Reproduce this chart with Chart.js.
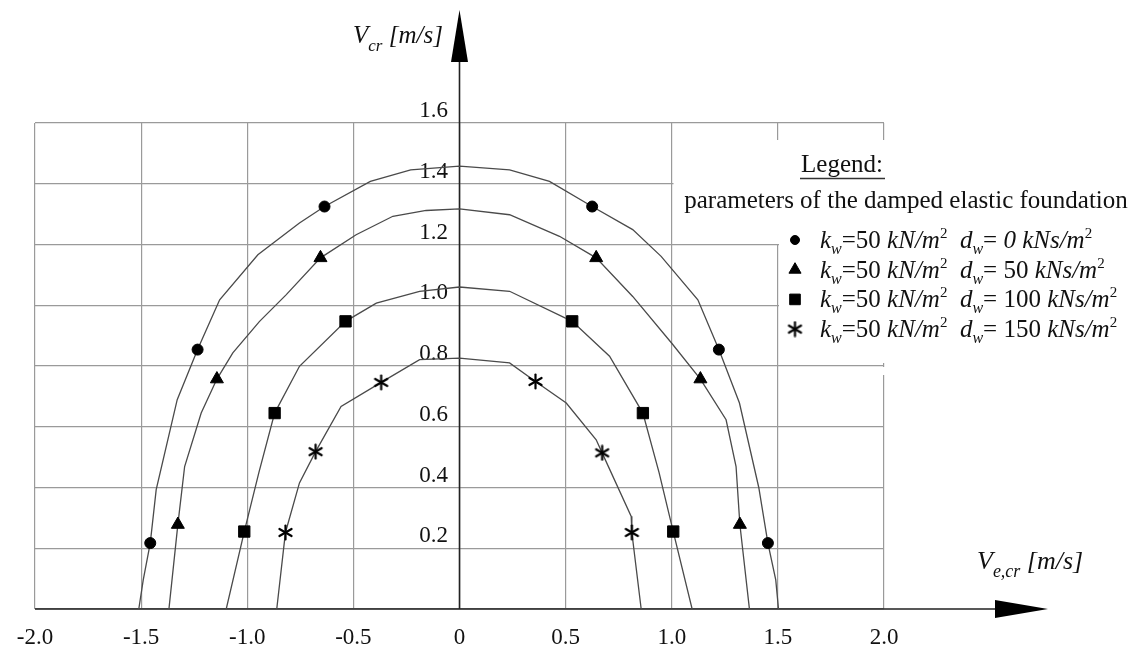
<!DOCTYPE html>
<html>
<head>
<meta charset="utf-8">
<script src="https://cdn.jsdelivr.net/npm/chart.js@4.4.1/dist/chart.umd.min.js"></script>
<style>
  html, body { margin: 0; padding: 0; background: #fff; }
</style>
</head>
<body>
<canvas id="chart" width="1139" height="646"></canvas>
<script>
// foundation parameters: kw in kN/m2, dw in kNs/m2
const kw = 50;
const dwValues = [0, 50, 100, 150];

// axis ticks
const xTicks = [-2.0, -1.5, -1.0, -0.5, 0, 0.5, 1.0, 1.5, 2.0];
const yTicks = [0, 0.2, 0.4, 0.6, 0.8, 1.0, 1.2, 1.4, 1.6];

// curves, [Ve,cr, Vcr] in m/s
const curveD0 = [[-1.511, 0], [-1.49, 0.096], [-1.457, 0.217], [-1.429, 0.393], [-1.33, 0.689], [-1.234, 0.854],
  [-1.13, 1.018], [-0.95, 1.166], [-0.754, 1.271], [-0.636, 1.325], [-0.42, 1.408], [-0.23, 1.446], [0, 1.458],
  [0.236, 1.446], [0.424, 1.408], [0.625, 1.325], [0.816, 1.249], [0.95, 1.161], [1.123, 1.018], [1.222, 0.854],
  [1.319, 0.678], [1.41, 0.40], [1.453, 0.217], [1.49, 0.096], [1.503, 0]];
const curveD50 = [[-1.369, 0], [-1.327, 0.278], [-1.295, 0.469], [-1.217, 0.645], [-1.143, 0.757], [-1.068, 0.843],
  [-0.942, 0.947], [-0.816, 1.035], [-0.655, 1.156], [-0.487, 1.232], [-0.314, 1.293], [-0.157, 1.312], [0, 1.317],
  [0.236, 1.298], [0.471, 1.227], [0.644, 1.156], [0.816, 1.029], [1.0, 0.875], [1.135, 0.757], [1.256, 0.623],
  [1.303, 0.469], [1.321, 0.278], [1.366, 0]];
const curveD100 = [[-1.099, 0], [-1.014, 0.255], [-0.945, 0.45], [-0.871, 0.645], [-0.754, 0.799], [-0.537, 0.947],
  [-0.392, 1.007], [-0.188, 1.046], [0, 1.06], [0.236, 1.046], [0.531, 0.947], [0.707, 0.832], [0.864, 0.645],
  [0.94, 0.45], [1.007, 0.255], [1.096, 0]];
const curveD150 = [[-0.861, 0], [-0.82, 0.252], [-0.754, 0.415], [-0.678, 0.518], [-0.558, 0.667], [-0.369, 0.746],
  [-0.188, 0.821], [0, 0.826], [0.236, 0.81], [0.358, 0.749], [0.503, 0.678], [0.644, 0.557], [0.672, 0.514],
  [0.809, 0.305], [0.812, 0.252], [0.856, 0]];

// marked points on each curve
const marksD0 = [[-1.457, 0.217], [-1.234, 0.854], [-0.636, 1.325], [0.625, 1.325], [1.222, 0.854], [1.453, 0.217]];
const marksD50 = [[-1.327, 0.278], [-1.143, 0.757], [-0.655, 1.156], [0.644, 1.156], [1.135, 0.757], [1.321, 0.278]];
const marksD100 = [[-1.014, 0.255], [-0.871, 0.645], [-0.537, 0.947], [0.531, 0.947], [0.864, 0.645], [1.007, 0.255]];
const marksD150 = [[-0.82, 0.252], [-0.678, 0.518], [-0.369, 0.746], [0.358, 0.749], [0.672, 0.514], [0.812, 0.252]];

const SERIF = '"Liberation Serif", "Times New Roman", serif';

// six-armed asterisk marker
function makeAsterisk(size) {
  const c = document.createElement('canvas');
  c.width = size; c.height = size;
  const g = c.getContext('2d');
  g.strokeStyle = '#000';
  g.lineWidth = 2.2;
  g.lineCap = 'round';
  const r = size / 2 - 1.5;
  for (let a = 0; a < 3; a++) {
    const ang = Math.PI / 2 + a * Math.PI / 3;
    g.beginPath();
    g.moveTo(size / 2 + Math.cos(ang) * r, size / 2 - Math.sin(ang) * r);
    g.lineTo(size / 2 - Math.cos(ang) * r, size / 2 + Math.sin(ang) * r);
    g.stroke();
  }
  return c;
}
const asterisk = makeAsterisk(17);

const styles = [
  { style: 'circle', radius: 5.5 },
  { style: 'triangle', radius: 7.5 },
  { style: 'rect', radius: 8 },
  { style: asterisk, radius: 8 }
];

const toXY = arr => arr.map(p => ({ x: p[0], y: p[1] }));
const curves = [curveD0, curveD50, curveD100, curveD150];
const marks = [marksD0, marksD50, marksD100, marksD150];

const datasets = [];
curves.forEach((c, i) => {
  datasets.push({
    label: 'dw=' + dwValues[i],
    data: toXY(c),
    showLine: true,
    borderColor: '#4a4a4a',
    borderWidth: 1.3,
    pointRadius: 0,
    tension: 0,
    order: 2
  });
  datasets.push({
    label: 'marks dw=' + dwValues[i],
    data: toXY(marks[i]),
    showLine: false,
    pointStyle: styles[i].style,
    pointRadius: styles[i].radius,
    backgroundColor: '#000',
    borderColor: '#000',
    borderWidth: 1,
    order: 1
  });
});

// draw a line of text made of pieces: [text, font, dy]
function richText(ctx, x, y, parts) {
  ctx.textAlign = 'left';
  ctx.textBaseline = 'alphabetic';
  let cx = x;
  parts.forEach(p => {
    ctx.font = p[1];
    ctx.fillText(p[0], cx, y + (p[2] || 0));
    cx += ctx.measureText(p[0]).width;
  });
  return cx - x;
}

const decor = {
  id: 'decor',
  beforeDatasetsDraw(chart) {
    const ctx = chart.ctx;
    const xs = chart.scales.x, ys = chart.scales.y;
    ctx.save();
    // white area behind the legend
    ctx.fillStyle = '#fff';
    ctx.fillRect(673.5, 140, 470, 104);
    ctx.fillRect(779, 244, 360, 119);
    ctx.fillRect(881, 367, 8, 8);

    // axes with arrows
    const x0 = xs.getPixelForValue(0);
    const y0 = ys.getPixelForValue(0);
    ctx.strokeStyle = '#222';
    ctx.fillStyle = '#000';
    ctx.lineWidth = 1.6;
    ctx.beginPath();
    ctx.moveTo(chart.chartArea.left, y0);
    ctx.lineTo(996, y0);
    ctx.moveTo(x0, y0);
    ctx.lineTo(x0, 62);
    ctx.stroke();
    ctx.beginPath();
    ctx.moveTo(995, y0 - 9);
    ctx.lineTo(1048, y0);
    ctx.lineTo(995, y0 + 9);
    ctx.closePath();
    ctx.fill();
    ctx.beginPath();
    ctx.moveTo(x0 - 8.5, 62);
    ctx.lineTo(x0, 10);
    ctx.lineTo(x0 + 8.5, 62);
    ctx.closePath();
    ctx.fill();
    ctx.restore();
  },
  afterDraw(chart) {
    const ctx = chart.ctx;
    ctx.save();
    ctx.fillStyle = '#111';

    // axis titles
    richText(ctx, 353, 43, [['V', 'italic 25px ' + SERIF], ['cr', 'italic 17px ' + SERIF, 8], [' [m/s]', 'italic 25px ' + SERIF]]);
    richText(ctx, 977, 569, [['V', 'italic 26px ' + SERIF], ['e,cr', 'italic 18px ' + SERIF, 8], [' [m/s]', 'italic 26px ' + SERIF]]);

    // legend header
    ctx.font = '25px ' + SERIF;
    ctx.textAlign = 'center';
    ctx.fillText('Legend:', 842, 172);
    ctx.strokeStyle = '#333';
    ctx.lineWidth = 1.3;
    ctx.beginPath();
    ctx.moveTo(800, 178.5);
    ctx.lineTo(885, 178.5);
    ctx.stroke();
    ctx.fillText('parameters of the damped elastic foundation', 906, 208);

    // legend items
    const rg = '25px ' + SERIF, ig = 'italic 25px ' + SERIF;
    const sub = 'italic 16px ' + SERIF, sup = '15px ' + SERIF;
    dwValues.forEach((d, i) => {
      const by = 248 + i * 29.7;
      const st = styles[i];
      ctx.fillStyle = '#000';
      ctx.strokeStyle = '#000';
      ctx.lineWidth = 1;
      if (typeof st.style === 'string') {
        Chart.helpers.drawPoint(ctx, {
          pointStyle: st.style,
          radius: st.style === 'circle' ? 4.5 : st.style === 'triangle' ? 7 : 7.5,
          rotation: 0, borderWidth: 1
        }, 795, by - 8);
      } else {
        ctx.drawImage(st.style, 795 - 8.5, by - 8 - 8.5);
      }
      ctx.fillStyle = '#111';
      richText(ctx, 820, by, [
        ['k', ig], ['w', sub, 6], ['=' + kw + ' ', rg], ['kN/m', ig], ['2', sup, -10],
        ['  ', rg], ['d', ig], ['w', sub, 6], ['= ', rg],
        [String(d), d === 0 ? ig : rg], [' kNs/m', ig], ['2', sup, -10]
      ]);
    });
    ctx.restore();
  }
};

const tickFont = { family: SERIF, size: 23 };

new Chart(document.getElementById('chart'), {
  type: 'scatter',
  data: { datasets },
  options: {
    responsive: false,
    animation: false,
    devicePixelRatio: 1,
    layout: { padding: { left: 35, right: 255, top: 123, bottom: 0 } },
    plugins: { legend: { display: false }, tooltip: { enabled: false } },
    scales: {
      x: {
        type: 'linear',
        min: -2, max: 2,
        afterBuildTicks: s => { s.ticks = xTicks.map(v => ({ value: v })); },
        afterFit: s => { s.height = 37; },
        grid: { color: '#9a9a9a', lineWidth: 1.2, drawTicks: false },
        border: { display: false },
        ticks: {
          font: tickFont, color: '#111', padding: 15, maxRotation: 0, autoSkip: false,
          callback: v => v === 0 ? '0' : v.toFixed(1)
        }
      },
      y: {
        type: 'linear',
        position: { x: 0 },
        min: 0, max: 1.6,
        afterBuildTicks: s => { s.ticks = yTicks.map(v => ({ value: v })); },
        grid: { color: '#9a9a9a', lineWidth: 1.2, drawTicks: false },
        border: { display: false },
        ticks: {
          font: tickFont, color: '#111', labelOffset: -12,
          // en space keeps the label clear of the axis line
          callback: v => v === 0 ? '' : v.toFixed(1) + '\u2002'
        }
      }
    }
  },
  plugins: [decor]
});
</script>
</body>
</html>
